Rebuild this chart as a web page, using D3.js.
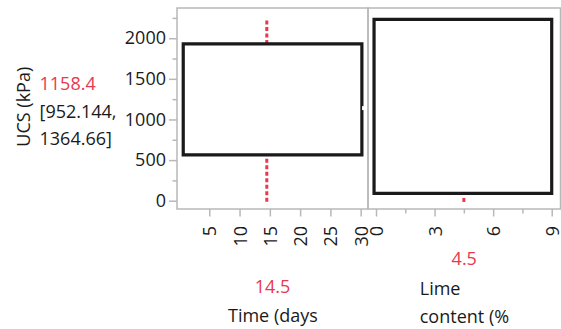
<!DOCTYPE html>
<html>
<head>
<meta charset="utf-8">
<script src="https://cdn.jsdelivr.net/npm/d3@7"></script>
<style>
  body { margin: 0; background: #fff; }
  text { font-family: "Open Sans", "Noto Sans", sans-serif; }
</style>
</head>
<body>
<div id="chart-area"></div>
<script>
// profiler values
const yTicks = [0, 500, 1000, 1500, 2000]
const yMinorTicks = [250, 750, 1250, 1750, 2250]
const timeTicks = [5, 10, 15, 20, 25, 30]
const limeTicks = [0, 3, 6, 9]
const limeMinorTicks = [1.5, 4.5, 7.5]

// traces (closed outlines) : [x, UCS]
const timeTrace = [[0.7, 563], [30.2, 563], [30.2, 1930], [0.7, 1930]]
const limeTrace = [[-0.1, 91], [9.0, 91], [9.0, 2233], [-0.1, 2233]]
const timeNotch = 1140

// current settings + red reference segments (UCS ranges)
const timeCurrent = 14.5
const limeCurrent = 4.5
const timeRefSegs = [[-12, 540], [1930, 2222]]
const limeRefSegs = [[-15, 48]]

const predicted = "1158.4"
const ciLines = ["[952.144,", "1364.66]"]
const yTitle = "UCS (kPa)"
const timeLabel = ["Time (days)"]
const limeLabel = ["Lime", "content (%)"]

const W = 561, H = 329
const TOP = 8, BOTTOM = 209
const LEFT_X0 = 177, MID_X = 368, RIGHT_X1 = 560.5
const RED = "#e9384d", FRAME = "#b8b8b8", INK = "#1a1a1a"
const fmt = d3.format("d")

const svg = d3.select("#chart-area").append("svg")
  .attr("width", W)
  .attr("height", H)

// scales
const y = d3.scaleLinear().domain([-102, 2372]).range([BOTTOM, TOP])
const xTime = d3.scaleLinear().domain([-0.33, 31.21]).range([LEFT_X0, MID_X])
const xLime = d3.scaleLinear().domain([-0.41, 9.45]).range([MID_X, RIGHT_X1])

// y axis
const yAxis = svg.append("g")
  .attr("transform", `translate(${LEFT_X0}, 0)`)
  .call(d3.axisLeft(y).tickValues(yTicks).tickFormat(fmt).tickSize(8).tickPadding(3))
const yMinor = svg.append("g")
  .attr("transform", `translate(${LEFT_X0}, 0)`)
  .call(d3.axisLeft(y).tickValues(yMinorTicks).tickSize(4.5).tickFormat(""))

function styleAxis(ax) {
  ax.select(".domain").remove()
  ax.selectAll("line").attr("stroke", FRAME).attr("stroke-width", 1.5)
  ax.selectAll("text").attr("fill", INK).style("font-size", "18px")
}
styleAxis(yAxis)
styleAxis(yMinor)

// x axes, labels rotated
function xAxis(scale, ticks, minor) {
  const ax = svg.append("g")
    .attr("transform", `translate(0, ${BOTTOM})`)
    .call(d3.axisBottom(scale).tickValues(ticks).tickFormat(fmt).tickSize(7.5))
  styleAxis(ax)
  ax.selectAll("text")
    .attr("transform", "rotate(-90)")
    .attr("x", -17)
    .attr("y", 0)
    .attr("dy", "0.36em")
    .style("text-anchor", "end")
  if (minor) {
    const mx = svg.append("g")
      .attr("transform", `translate(0, ${BOTTOM})`)
      .call(d3.axisBottom(scale).tickValues(minor).tickSize(4.5).tickFormat(""))
    styleAxis(mx)
  }
}
xAxis(xTime, timeTicks, null)
xAxis(xLime, limeTicks, limeMinorTicks)

// red reference lines (drawn under the traces)
const vline = (scale, xv) => d3.line().x(() => scale(xv)).y(d => y(d))
timeRefSegs.forEach(s => {
  svg.append("path")
    .attr("d", vline(xTime, timeCurrent)(s))
    .attr("stroke", RED).attr("stroke-width", 3)
    .attr("stroke-dasharray", "4,2.5").attr("fill", "none")
})
limeRefSegs.forEach(s => {
  svg.append("path")
    .attr("d", vline(xLime, limeCurrent)(s))
    .attr("stroke", RED).attr("stroke-width", 3)
    .attr("stroke-dasharray", "4,2.5").attr("fill", "none")
})

// traces
const traceTime = d3.line().x(d => xTime(d[0])).y(d => y(d[1])).curve(d3.curveLinearClosed)
const traceLime = d3.line().x(d => xLime(d[0])).y(d => y(d[1])).curve(d3.curveLinearClosed)
svg.append("path").attr("d", traceTime(timeTrace))
  .attr("fill", "none").attr("stroke", INK).attr("stroke-width", 3.2)
svg.append("path").attr("d", traceLime(limeTrace))
  .attr("fill", "none").attr("stroke", INK).attr("stroke-width", 3.2)

// small white notch on the right side of the time trace
svg.append("line")
  .attr("x1", xTime(timeTrace[1][0]) + 0.2)
  .attr("x2", xTime(timeTrace[1][0]) + 3.5)
  .attr("y1", y(timeNotch)).attr("y2", y(timeNotch))
  .attr("stroke", "#fff").attr("stroke-width", 4)

// frames
svg.append("rect")
  .attr("x", LEFT_X0).attr("y", TOP)
  .attr("width", MID_X - LEFT_X0).attr("height", BOTTOM - TOP)
  .attr("fill", "none").attr("stroke", FRAME).attr("stroke-width", 1.5)
svg.append("rect")
  .attr("x", MID_X).attr("y", TOP)
  .attr("width", RIGHT_X1 - MID_X).attr("height", BOTTOM - TOP)
  .attr("fill", "none").attr("stroke", FRAME).attr("stroke-width", 1.5)

// y title and predicted value
svg.append("text")
  .attr("transform", `translate(30, 106.7) rotate(-90)`)
  .style("text-anchor", "middle")
  .style("font-size", "18px")
  .attr("fill", INK)
  .text(yTitle)

svg.append("text")
  .attr("x", 39.5).attr("y", 90)
  .style("font-size", "18px")
  .attr("fill", RED)
  .text(predicted)
ciLines.forEach((t, i) => {
  svg.append("text")
    .attr("x", 39.5).attr("y", 117.5 + i * 27)
    .style("font-size", "18px")
    .attr("fill", INK)
    .text(t)
})

// bottom labels: current value + factor name, clipped to a 90px box
function factorLabel(id, cx, valueText, valueY, lines, labelY) {
  svg.append("clipPath").attr("id", id)
    .append("rect")
    .attr("x", cx - 45).attr("y", 0)
    .attr("width", 90).attr("height", H)
  svg.append("text")
    .attr("x", cx).attr("y", valueY)
    .style("text-anchor", "middle")
    .style("font-size", "18px")
    .attr("fill", RED)
    .text(valueText)
  const g = svg.append("g").attr("clip-path", `url(#${id})`)
  lines.forEach((t, i) => {
    g.append("text")
      .attr("x", cx - 45 + 0.5).attr("y", labelY + i * 28)
      .style("font-size", "18px")
      .attr("fill", INK)
      .text(t)
  })
}
factorLabel("clip-time", (LEFT_X0 + MID_X) / 2, String(timeCurrent), 293, timeLabel, 322)
factorLabel("clip-lime", (MID_X + RIGHT_X1) / 2, String(limeCurrent), 265, limeLabel, 295)
</script>
</body>
</html>
